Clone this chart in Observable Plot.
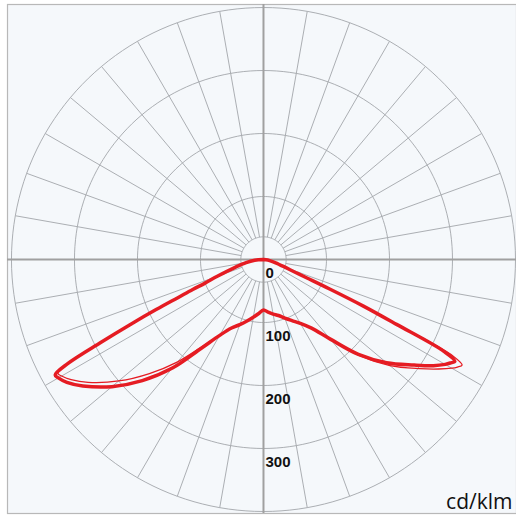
<!DOCTYPE html>
<html>
<head>
<meta charset="utf-8">
<script src="https://cdn.jsdelivr.net/npm/d3@7"></script>
<script src="https://cdn.jsdelivr.net/npm/@observablehq/plot@0.6"></script>
<style>
  html, body { margin: 0; padding: 0; background: #ffffff; }
  #chart svg { display: block; }
</style>
</head>
<body>
<div id="chart"></div>
<script>
// Polar angles (degrees from nadir) for one half of each plane
const angles = [0, 5, 10, 15, 20, 25, 30, 35, 40, 45, 50, 55, 58, 60, 61, 62, 63, 64, 65, 66, 67, 68, 70, 75, 80, 85, 90];
// Thick curve (cd/klm): left half and right half
const thickLeft  = [80, 86, 93, 101, 110, 120, 139, 172, 225, 272, 314, 350, 368, 376, 378, 352, 290, 235, 188, 148, 122, 100, 78, 45, 28, 14, 0];
const thickRight = [80, 84, 88, 92, 99, 107, 117, 133, 165, 213, 255, 292, 318, 333, 339, 344, 322, 235, 175, 115, 75, 55, 38, 20, 10, 4, 0];
// Thin curve (cd/klm): left half and right half
const thinLeft   = [80, 86, 93, 101, 110, 120, 139, 168, 212, 256, 300, 340, 360, 370, 373, 350, 290, 235, 188, 148, 122, 100, 78, 45, 28, 14, 0];
const thinRight  = [80, 84, 88, 92, 99, 107, 117, 133, 165, 216, 262, 302, 328, 345, 352, 357, 338, 245, 175, 115, 75, 55, 38, 20, 10, 4, 0];

// Grid
const rings = [100, 200, 300, 400];
const innerRing = 36;
const ringLabels = ["0", "100", "200", "300"];
const ringLabelValues = [0, 100, 200, 300];
const rayStep = 10;
const unitLabel = "cd/klm";

const rad = Math.PI / 180;
const px = (g, v) => v * Math.sin(g * rad);
const py = (g, v) => -v * Math.cos(g * rad);

function halfRows(left, right, series) {
  const rows = [];
  for (let i = angles.length - 1; i >= 0; i--) rows.push({g: -angles[i], v: left[i], series});
  for (let i = 1; i < angles.length; i++) rows.push({g: angles[i], v: right[i], series});
  return rows;
}
const thickRows = halfRows(thickLeft, thickRight, "thick");
const thinRows = halfRows(thinLeft, thinRight, "thin");

const circleRows = [];
for (const r of [innerRing, ...rings]) {
  for (let a = 0; a <= 360; a += 2) circleRows.push({ring: r, g: a, v: r});
}
const rays = d3.range(0, 360, rayStep).filter(a => a % 90 !== 0).map(a => ({g: a}));
const labelRows = ringLabels.map((t, i) => ({text: t, v: ringLabelValues[i]}));

const red = "#e51c23";
const gridColor = "#a3a6aa";

const chart = Plot.plot({
  width: 516,
  height: 516,
  marginLeft: 7,
  marginRight: 0,
  marginTop: 4,
  marginBottom: 3,
  x: {domain: [-406.3, 401.6], axis: null},
  y: {domain: [-403.2, 404.8], axis: null},
  marks: [
    Plot.frame({fill: "#f5f8fb", stroke: "#b8b8b8", strokeWidth: 1.2}),
    Plot.line(circleRows, {x: d => px(d.g, d.v), y: d => py(d.g, d.v), z: "ring", stroke: gridColor, strokeWidth: 0.9}),
    Plot.link(rays, {
      x1: d => px(d.g, innerRing), y1: d => py(d.g, innerRing),
      x2: d => px(d.g, rings[rings.length - 1]), y2: d => py(d.g, rings[rings.length - 1]),
      stroke: gridColor, strokeWidth: 0.9
    }),
    Plot.ruleY([0], {stroke: "#a0a0a0", strokeWidth: 2}),
    Plot.ruleX([0], {stroke: "#a0a0a0", strokeWidth: 2}),
    Plot.text(labelRows, {
      x: 0, y: d => -(d.v + 22), text: "text", dx: 2,
      textAnchor: "start", lineAnchor: "middle",
      fontSize: 15, fontWeight: "bold", fill: "#111",
      fontFamily: "Liberation Sans, Arial, sans-serif"
    }),
    Plot.line(thickRows, {x: d => px(d.g, d.v), y: d => py(d.g, d.v), curve: "catmull-rom", stroke: red, strokeWidth: 3.5, strokeLinejoin: "round"}),
    Plot.line(thinRows, {x: d => px(d.g, d.v), y: d => py(d.g, d.v), curve: "catmull-rom", stroke: red, strokeWidth: 1.3, strokeLinejoin: "round"}),
    Plot.text([unitLabel], {
      frameAnchor: "bottom-right", text: d => d, dx: -4, dy: -11,
      textAnchor: "end", lineAnchor: "middle",
      fontSize: 21, fill: "#111", fontFamily: "Open Sans, sans-serif"
    })
  ]
});
document.getElementById("chart").appendChild(chart);
</script>
</body>
</html>
